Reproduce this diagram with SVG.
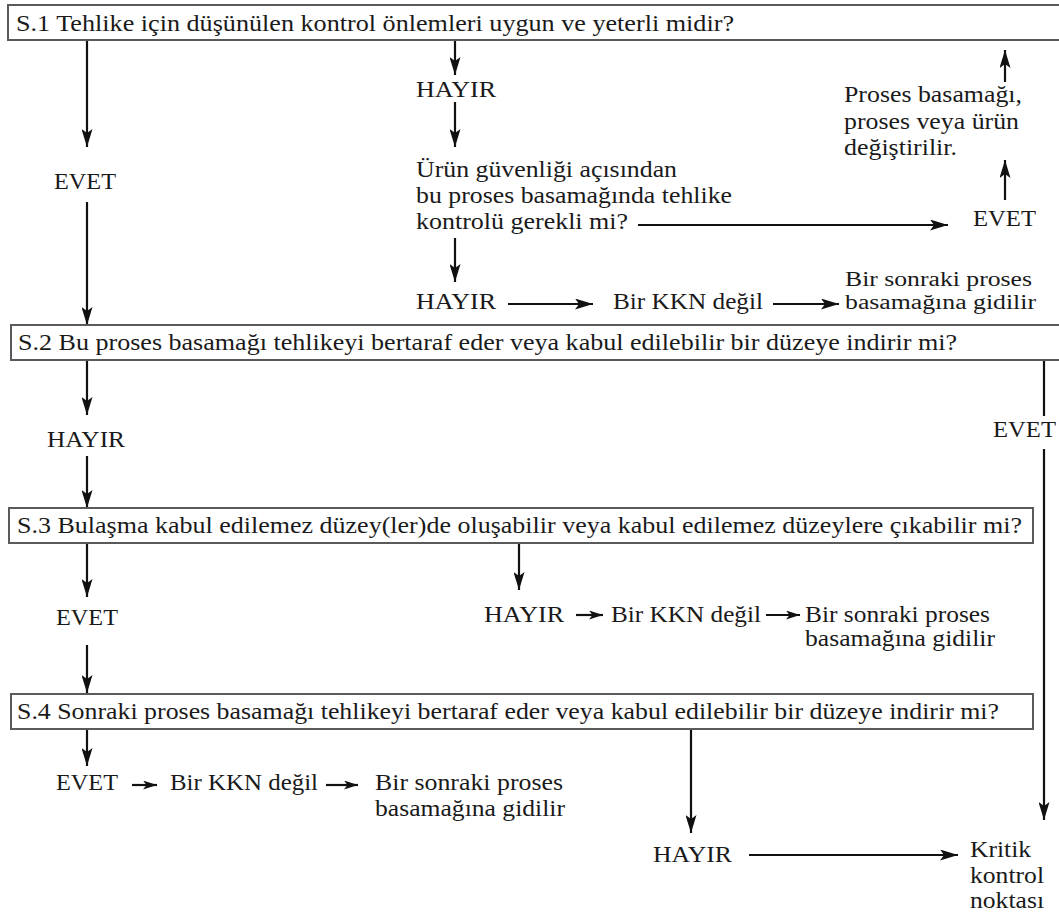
<svg xmlns="http://www.w3.org/2000/svg" width="1059" height="917" viewBox="0 0 1059 917">
<style>
text{font-family:"Liberation Serif","Times New Roman",serif;font-size:22.5px;fill:#1a1a1a;}
.sm{font-size:20.5px;}
.box{fill:#fff;stroke:#5a5a5a;stroke-width:2;}
.c{stroke:#111;stroke-width:2.2;fill:none;}
</style>
<defs>
<marker id="ah" markerUnits="userSpaceOnUse" markerWidth="19" markerHeight="11" refX="18" refY="5.5" orient="auto">
<path d="M0,0 L18,5.5 L0,11 L4,5.5 z" fill="#111"/>
</marker>
<marker id="as" markerUnits="userSpaceOnUse" markerWidth="15" markerHeight="9" refX="14" refY="4.5" orient="auto">
<path d="M0,0 L14,4.5 L0,9 L3.5,4.5 z" fill="#111"/>
</marker>
</defs>
<rect width="1059" height="917" fill="#fff"/>
<g id="connectors">
<line class="c" x1="87" y1="40" x2="87" y2="147" marker-end="url(#ah)"/>
<line class="c" x1="87" y1="202" x2="87" y2="325" marker-end="url(#ah)"/>
<line class="c" x1="455" y1="40" x2="455" y2="75" marker-end="url(#ah)"/>
<line class="c" x1="455" y1="102" x2="455" y2="147" marker-end="url(#ah)"/>
<line class="c" x1="455" y1="238" x2="455" y2="282" marker-end="url(#ah)"/>
<line class="c" x1="508" y1="304" x2="593" y2="304" marker-end="url(#ah)"/>
<line class="c" x1="773" y1="304" x2="839" y2="304" marker-end="url(#ah)"/>
<line class="c" x1="638" y1="225" x2="948" y2="225" marker-end="url(#ah)"/>
<line class="c" x1="1005" y1="200" x2="1005" y2="160" marker-end="url(#ah)"/>
<line class="c" x1="1005" y1="82" x2="1005" y2="50" marker-end="url(#ah)"/>
<line class="c" x1="87" y1="360" x2="87" y2="415" marker-end="url(#ah)"/>
<line class="c" x1="87" y1="456" x2="87" y2="508" marker-end="url(#ah)"/>
<line class="c" x1="1044" y1="359" x2="1044" y2="416"/>
<line class="c" x1="1044" y1="449" x2="1044" y2="820" marker-end="url(#ah)"/>
<line class="c" x1="87" y1="543" x2="87" y2="597" marker-end="url(#ah)"/>
<line class="c" x1="519" y1="543" x2="519" y2="590" marker-end="url(#ah)"/>
<line class="c" x1="576" y1="615" x2="603" y2="615" marker-end="url(#as)"/>
<line class="c" x1="766" y1="615" x2="800" y2="615" marker-end="url(#as)"/>
<line class="c" x1="87" y1="645" x2="87" y2="693" marker-end="url(#ah)"/>
<line class="c" x1="87" y1="729" x2="87" y2="766" marker-end="url(#ah)"/>
<line class="c" x1="132" y1="785" x2="157" y2="785" marker-end="url(#as)"/>
<line class="c" x1="326" y1="785" x2="358" y2="785" marker-end="url(#as)"/>
<line class="c" x1="691" y1="729" x2="691" y2="833" marker-end="url(#ah)"/>
<line class="c" x1="749" y1="855" x2="958" y2="855" marker-end="url(#ah)"/>
</g>
<g id="s1">
<rect class="box" x="8" y="5" width="1060" height="35"/>
<text x="16" y="31" textLength="718" lengthAdjust="spacingAndGlyphs">S.1  Tehlike için düşünülen kontrol önlemleri uygun ve yeterli midir?</text>
</g>
<g id="s1-evet"><text x="54" y="189" textLength="62" lengthAdjust="spacingAndGlyphs">EVET</text></g>
<g id="s1-hayir"><text x="416" y="97" textLength="80" lengthAdjust="spacingAndGlyphs">HAYIR</text></g>
<g id="q-urun">
<text x="416" y="177" textLength="261" lengthAdjust="spacingAndGlyphs">Ürün güvenliği açısından</text>
<text x="416" y="203" textLength="316" lengthAdjust="spacingAndGlyphs">bu proses basamağında tehlike</text>
<text x="416" y="229" textLength="212" lengthAdjust="spacingAndGlyphs">kontrolü gerekli mi?</text>
</g>
<g id="q-evet"><text x="973" y="226" textLength="63" lengthAdjust="spacingAndGlyphs">EVET</text></g>
<g id="degistir">
<text x="844" y="102" textLength="178" lengthAdjust="spacingAndGlyphs">Proses basamağı,</text>
<text x="844" y="129" textLength="175" lengthAdjust="spacingAndGlyphs">proses veya ürün</text>
<text x="844" y="155" textLength="113" lengthAdjust="spacingAndGlyphs">değiştirilir.</text>
</g>
<g id="q-hayir"><text x="416" y="309" textLength="80" lengthAdjust="spacingAndGlyphs">HAYIR</text></g>
<g id="kkn1"><text x="613" y="309" textLength="150" lengthAdjust="spacingAndGlyphs">Bir KKN değil</text></g>
<g id="next1">
<text class="sm" x="845" y="286" textLength="187" lengthAdjust="spacingAndGlyphs">Bir sonraki proses</text>
<text class="sm" x="845" y="309" textLength="191" lengthAdjust="spacingAndGlyphs">basamağına gidilir</text>
</g>
<g id="s2">
<rect class="box" x="11" y="325" width="1060" height="35"/>
<text x="18" y="350" textLength="939" lengthAdjust="spacingAndGlyphs">S.2  Bu proses basamağı tehlikeyi bertaraf eder veya kabul edilebilir bir düzeye indirir mi?</text>
</g>
<g id="s2-hayir"><text x="47" y="447" textLength="78" lengthAdjust="spacingAndGlyphs">HAYIR</text></g>
<g id="s2-evet"><text x="993" y="437" textLength="63" lengthAdjust="spacingAndGlyphs">EVET</text></g>
<g id="s3">
<rect class="box" x="9" y="508" width="1024" height="35"/>
<text x="17" y="533" textLength="1005" lengthAdjust="spacingAndGlyphs">S.3  Bulaşma kabul edilemez düzey(ler)de oluşabilir veya kabul edilemez düzeylere çıkabilir mi?</text>
</g>
<g id="s3-evet"><text x="56" y="625" textLength="62" lengthAdjust="spacingAndGlyphs">EVET</text></g>
<g id="s3-hayir"><text x="484" y="622" textLength="80" lengthAdjust="spacingAndGlyphs">HAYIR</text></g>
<g id="kkn2"><text x="611" y="622" textLength="150" lengthAdjust="spacingAndGlyphs">Bir KKN değil</text></g>
<g id="next2">
<text x="805" y="622" textLength="185" lengthAdjust="spacingAndGlyphs">Bir sonraki proses</text>
<text x="805" y="646" textLength="190" lengthAdjust="spacingAndGlyphs">basamağına gidilir</text>
</g>
<g id="s4">
<rect class="box" x="11" y="694" width="1022" height="35"/>
<text x="17" y="719" textLength="982" lengthAdjust="spacingAndGlyphs">S.4 Sonraki proses basamağı tehlikeyi bertaraf eder veya kabul edilebilir bir düzeye indirir mi?</text>
</g>
<g id="s4-evet"><text x="56" y="790" textLength="62" lengthAdjust="spacingAndGlyphs">EVET</text></g>
<g id="kkn3"><text x="170" y="790" textLength="148" lengthAdjust="spacingAndGlyphs">Bir KKN değil</text></g>
<g id="next3">
<text x="375" y="790" textLength="188" lengthAdjust="spacingAndGlyphs">Bir sonraki proses</text>
<text x="375" y="816" textLength="190" lengthAdjust="spacingAndGlyphs">basamağına gidilir</text>
</g>
<g id="s4-hayir"><text x="653" y="862" textLength="79" lengthAdjust="spacingAndGlyphs">HAYIR</text></g>
<g id="kkn">
<text x="970" y="857" textLength="61" lengthAdjust="spacingAndGlyphs">Kritik</text>
<text x="970" y="883" textLength="74" lengthAdjust="spacingAndGlyphs">kontrol</text>
<text x="970" y="908" textLength="74" lengthAdjust="spacingAndGlyphs">noktası</text>
</g>
</svg>
